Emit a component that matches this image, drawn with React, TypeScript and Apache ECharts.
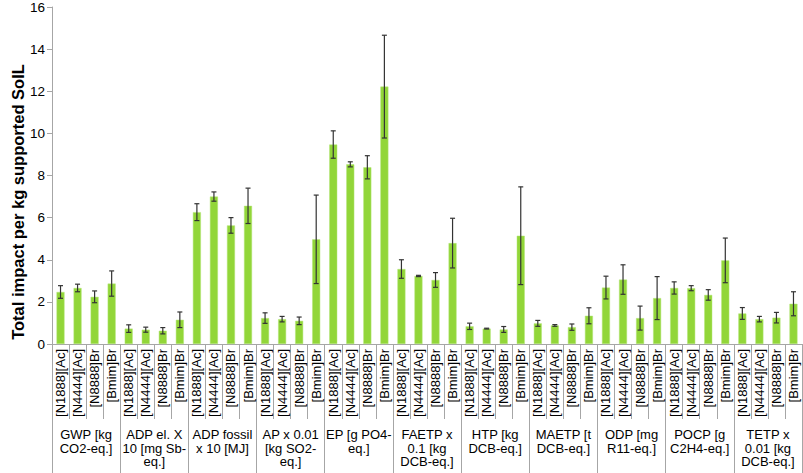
import React, { useEffect, useRef } from "react";
import * as echarts from "echarts";

const groups = [
  "GWP [kg\nCO2-eq.]",
  "ADP el. X\n10 [mg Sb-\neq.]",
  "ADP fossil\nx 10 [MJ]",
  "AP x 0.01\n[kg SO2-\neq.]",
  "EP [g PO4-\neq.]",
  "FAETP x\n0.1 [kg\nDCB-eq.]",
  "HTP [kg\nDCB-eq.]",
  "MAETP [t\nDCB-eq.]",
  "ODP [mg\nR11-eq.]",
  "POCP [g\nC2H4-eq.]",
  "TETP x\n0.01 [kg\nDCB-eq.]",
];
const solvents = ["[N1888][Ac]", "[N4444][Ac]", "[N8888]Br", "[Bmim]Br"];

const values = [
  2.47, 2.66, 2.24, 2.87,
  0.73, 0.68, 0.63, 1.15,
  6.26, 7.0, 5.63, 6.56,
  1.23, 1.18, 1.1, 4.97,
  9.47, 8.53, 8.39, 12.22,
  3.56, 3.23, 3.04, 4.79,
  0.84, 0.73, 0.69, 5.14,
  0.98, 0.88, 0.8, 1.34,
  2.68, 3.06, 1.23, 2.18,
  2.66, 2.65, 2.33, 3.97,
  1.45, 1.18, 1.25, 1.91,
];
const errors = [
  0.3, 0.18, 0.28, 0.6,
  0.18, 0.12, 0.15, 0.37,
  0.4, 0.22, 0.37, 0.84,
  0.25, 0.13, 0.18, 2.1,
  0.65, 0.12, 0.55, 2.44,
  0.44, 0.03, 0.35, 1.18,
  0.15, 0.02, 0.14, 2.32,
  0.14, 0.04, 0.15, 0.38,
  0.54, 0.7, 0.57, 1.02,
  0.29, 0.12, 0.25, 1.06,
  0.28, 0.13, 0.25, 0.57,
];
const yTicks = [0, 2, 4, 6, 8, 10, 12, 14, 16];
const yTitle = "Total impact per kg supported SoIL";

const categories: string[] = [];
groups.forEach(() => solvents.forEach((s) => categories.push(s)));

export default function App() {
  const ref = useRef<HTMLDivElement>(null);
  useEffect(() => {
    document.body.style.margin = "0";
    const chart = echarts.init(ref.current!, null, { renderer: "svg" });
    const axisGray = "#A6A6A6";
    const font = "Liberation Sans, Arial, sans-serif";
    chart.setOption({
      animation: false,
      grid: { left: 52, right: 1, top: 6, bottom: 129, containLabel: false },
      graphic: [
        {
          type: "text",
          x: 18,
          y: 202,
          rotation: Math.PI / 2,
          style: {
            text: yTitle,
            fontSize: 16.5,
            fontWeight: "bold",
            fontFamily: font,
            fill: "#000",
            textAlign: "center",
            textVerticalAlign: "middle",
          },
        },
      ],
      xAxis: [
        {
          type: "category",
          data: categories,
          position: "bottom",
          axisLine: { show: true, lineStyle: { color: axisGray, width: 1 } },
          axisTick: { show: true, interval: 0, length: 75, lineStyle: { color: axisGray } },
          axisLabel: {
            interval: 0,
            rotate: 90,
            margin: 5,
            fontSize: 13,
            fontFamily: font,
            color: "#000",
          },
        },
        {
          type: "category",
          data: groups,
          position: "bottom",
          offset: 75,
          axisLine: { show: false },
          axisTick: { show: true, interval: 0, length: 60, lineStyle: { color: axisGray } },
          axisLabel: {
            interval: 0,
            margin: 9,
            fontSize: 13,
            lineHeight: 13.5,
            fontFamily: font,
            color: "#000",
            align: "center",
          },
        },
      ],
      yAxis: {
        type: "value",
        min: yTicks[0],
        max: yTicks[yTicks.length - 1],
        interval: 2,
        axisLine: { show: true, lineStyle: { color: axisGray } },
        axisTick: { show: true, length: 5, lineStyle: { color: axisGray } },
        splitLine: { show: false },
        axisLabel: { fontSize: 13.5, fontFamily: font, color: "#000", margin: 7 },
      },
      series: [
        {
          type: "bar",
          xAxisIndex: 0,
          data: values,
          barWidth: 8,
          itemStyle: { color: "#92D639", borderColor: "#B5E678", borderWidth: 0.5 },
        },
        {
          type: "custom",
          xAxisIndex: 0,
          data: values.map((v, i) => [i, v - errors[i], v + errors[i]]),
          z: 10,
          renderItem: (params: any, api: any) => {
            const x = api.value(0);
            const lo = api.coord([x, api.value(1)]);
            const hi = api.coord([x, api.value(2)]);
            const cx = lo[0];
            const hw = 2.5;
            const style = { stroke: "#333", lineWidth: 1.2 };
            return {
              type: "group",
              children: [
                { type: "line", shape: { x1: cx, y1: lo[1], x2: cx, y2: hi[1] }, style },
                { type: "line", shape: { x1: cx - hw, y1: lo[1], x2: cx + hw, y2: lo[1] }, style },
                { type: "line", shape: { x1: cx - hw, y1: hi[1], x2: cx + hw, y2: hi[1] }, style },
              ],
            };
          },
        },
      ],
    });
    return () => chart.dispose();
  }, []);
  return <div ref={ref} style={{ width: 803, height: 473 }} />;
}
